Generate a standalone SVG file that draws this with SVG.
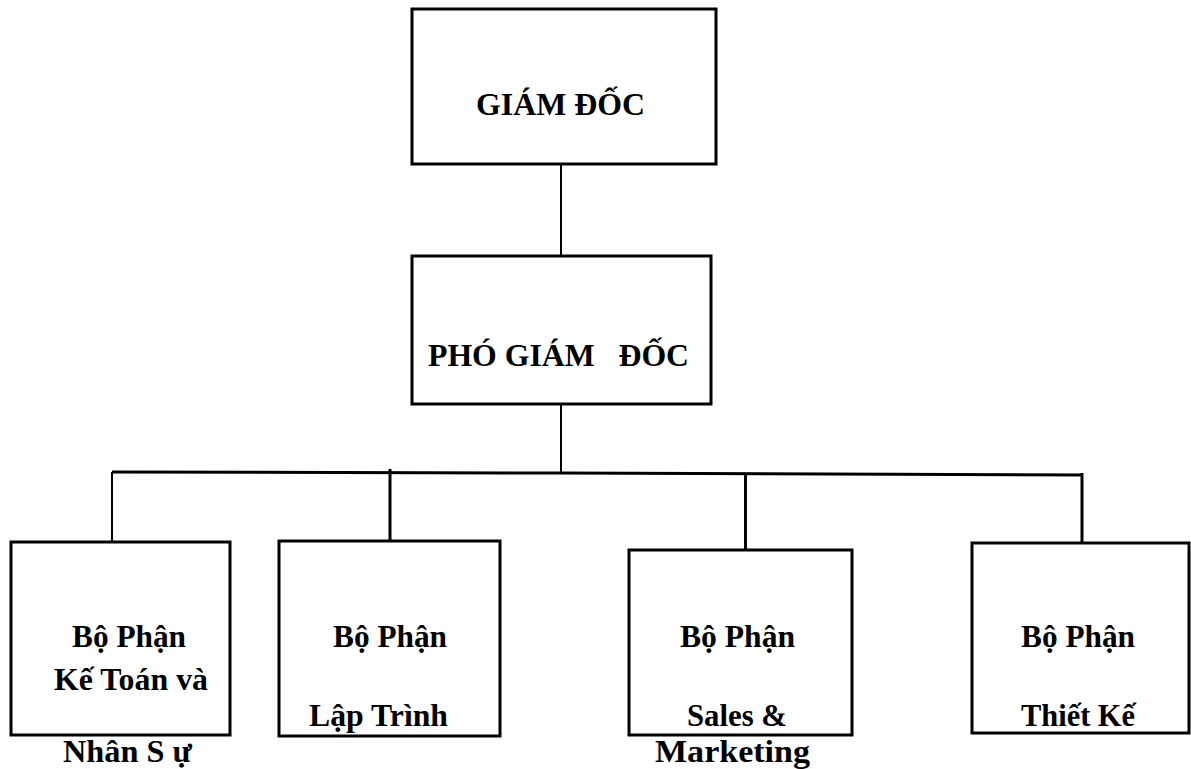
<svg xmlns="http://www.w3.org/2000/svg" width="1191" height="769" viewBox="0 0 1191 769">
<style>
.box{fill:#fff;stroke:#000;stroke-width:3}
.t{font-family:"Liberation Serif","Times New Roman",serif;font-weight:bold;font-size:32px;fill:#000}
.c{stroke:#000;fill:none}
</style>
<rect width="1191" height="769" fill="#fff"/>
<g id="connectors">
<line class="c" x1="561" y1="164" x2="561" y2="256" stroke-width="2"/>
<line class="c" x1="561" y1="404" x2="561" y2="473" stroke-width="2"/>
<polyline class="c" points="112,472 561,473 1083,475" stroke-width="3"/>
<line class="c" x1="112" y1="472" x2="112" y2="542" stroke-width="2"/>
<line class="c" x1="390" y1="469" x2="390" y2="542" stroke-width="3"/>
<line class="c" x1="745.5" y1="474" x2="745.5" y2="550" stroke-width="3"/>
<line class="c" x1="1082" y1="473" x2="1082" y2="544" stroke-width="3"/>
</g>
<g id="giam-doc">
<rect class="box" x="412" y="9" width="304" height="155"/>
<text class="t" x="476" y="115" textLength="169" lengthAdjust="spacingAndGlyphs">GIÁM ĐỐC</text>
</g>
<g id="pho-giam-doc">
<rect class="box" x="412" y="256" width="299" height="148"/>
<text class="t" x="428" y="366" textLength="261" lengthAdjust="spacingAndGlyphs" xml:space="preserve">PHÓ GIÁM   ĐỐC</text>
</g>
<g id="ke-toan">
<rect class="box" x="11" y="542" width="219" height="193"/>
<text class="t" x="72" y="647" textLength="114" lengthAdjust="spacingAndGlyphs">Bộ Phận</text>
<text class="t" x="54" y="690" textLength="154" lengthAdjust="spacingAndGlyphs">Kế Toán và</text>
<text class="t" x="63" y="762" textLength="129" lengthAdjust="spacingAndGlyphs">Nhân S ự</text>
</g>
<g id="lap-trinh">
<rect class="box" x="279" y="541" width="221" height="195"/>
<text class="t" x="333" y="647" textLength="114" lengthAdjust="spacingAndGlyphs">Bộ Phận</text>
<text class="t" x="309" y="726" textLength="139" lengthAdjust="spacingAndGlyphs">Lập Trình</text>
</g>
<g id="sales-marketing">
<rect class="box" x="629" y="550" width="223" height="185"/>
<text class="t" x="680" y="647" textLength="115" lengthAdjust="spacingAndGlyphs">Bộ Phận</text>
<text class="t" x="687" y="726" textLength="100" lengthAdjust="spacingAndGlyphs">Sales &amp;</text>
<text class="t" x="655" y="762" textLength="155" lengthAdjust="spacingAndGlyphs">Marketing</text>
</g>
<g id="thiet-ke">
<rect class="box" x="972" y="543" width="217" height="190"/>
<text class="t" x="1021" y="647" textLength="114" lengthAdjust="spacingAndGlyphs">Bộ Phận</text>
<text class="t" x="1021" y="726" textLength="114" lengthAdjust="spacingAndGlyphs">Thiết Kế</text>
</g>
</svg>
